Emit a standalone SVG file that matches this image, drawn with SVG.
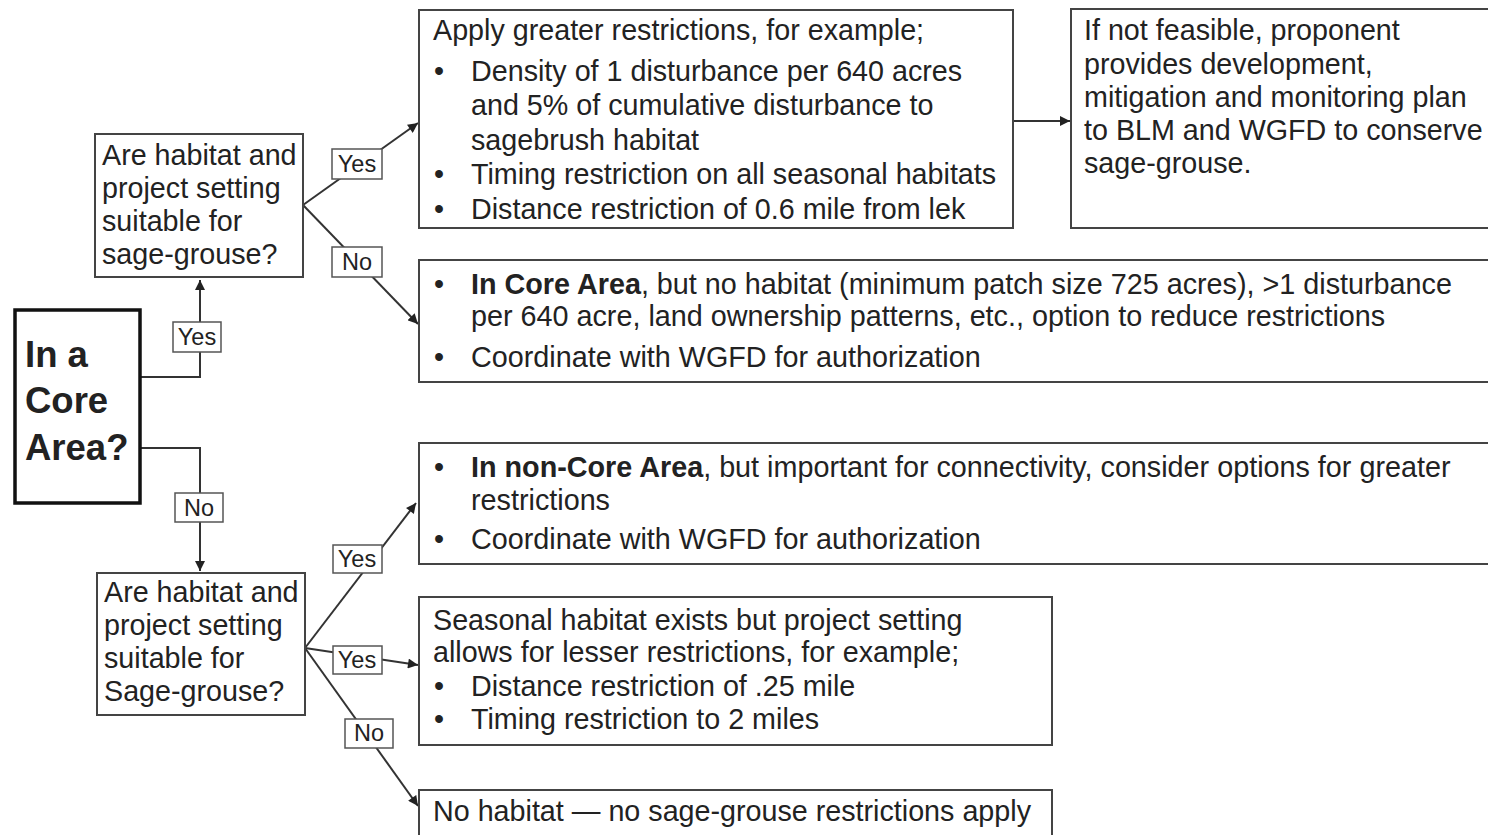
<svg xmlns="http://www.w3.org/2000/svg" width="1488" height="835" viewBox="0 0 1488 835">
<style>
text{font-family:"Liberation Sans",Arial,sans-serif;fill:#222}
.t{font-size:28.7px}
.w{font-size:28.75px}
.lbl{font-size:23.5px;text-anchor:middle}
.box{fill:#fff;stroke:#444;stroke-width:2}
.lb{fill:#fff;stroke:#555;stroke-width:1.5}
.ln{fill:none;stroke:#333;stroke-width:2}
.core{font-size:36.5px;font-weight:bold}
</style>
<defs>
<marker id="ah" viewBox="0 0 10 10" refX="10" refY="5" markerWidth="11" markerHeight="10" markerUnits="userSpaceOnUse" orient="auto"><path d="M0,0 L10,5 L0,10 z" fill="#222"/></marker>
</defs>
<rect width="1488" height="835" fill="#fff"/>
<g id="connectors">
<polyline class="ln" points="140,377 200,377 200,280" marker-end="url(#ah)"/>
<polyline class="ln" points="140,448 200,448 200,571" marker-end="url(#ah)"/>
<line class="ln" x1="303" y1="205" x2="418" y2="123" marker-end="url(#ah)"/>
<line class="ln" x1="303" y1="205" x2="418" y2="324" marker-end="url(#ah)"/>
<line class="ln" x1="1013" y1="121" x2="1070" y2="121" marker-end="url(#ah)"/>
<line class="ln" x1="305" y1="648" x2="416" y2="503" marker-end="url(#ah)"/>
<line class="ln" x1="305" y1="648" x2="418" y2="665" marker-end="url(#ah)"/>
<line class="ln" x1="305" y1="648" x2="418" y2="806" marker-end="url(#ah)"/>
<rect class="lb" x="173" y="322" width="48" height="30"/><text class="lbl" x="197" y="345">Yes</text>
<rect class="lb" x="175" y="493" width="48" height="29"/><text class="lbl" x="199" y="516">No</text>
<rect class="lb" x="332" y="149" width="50" height="30"/><text class="lbl" x="357" y="172">Yes</text>
<rect class="lb" x="332" y="247" width="50" height="30"/><text class="lbl" x="357" y="270">No</text>
<rect class="lb" x="333" y="545" width="49" height="28"/><text class="lbl" x="357" y="567">Yes</text>
<rect class="lb" x="333" y="646" width="49" height="28"/><text class="lbl" x="357" y="668">Yes</text>
<rect class="lb" x="345" y="719" width="48" height="29"/><text class="lbl" x="369" y="741">No</text>
</g>
<g id="core">
<rect x="15" y="310" width="125" height="193" fill="#fff" stroke="#111" stroke-width="3.5"/>
<text class="core" x="25" y="367">In a</text>
<text class="core" x="25" y="413">Core</text>
<text class="core" x="25" y="460">Area?</text>
</g>
<g id="q1">
<rect class="box" x="95" y="134" width="208" height="143"/>
<text class="t" x="102" y="165">Are habitat and</text>
<text class="t" x="102" y="198">project setting</text>
<text class="t" x="102" y="231">suitable for</text>
<text class="t" x="102" y="264">sage-grouse?</text>
</g>
<g id="q2">
<rect class="box" x="97" y="573" width="208" height="142"/>
<text class="t" x="104" y="602">Are habitat and</text>
<text class="t" x="104" y="635">project setting</text>
<text class="t" x="104" y="668">suitable for</text>
<text class="t" x="104" y="701">Sage-grouse?</text>
</g>
<g id="greater">
<rect class="box" x="419" y="10" width="594" height="218"/>
<text class="t" x="433" y="40">Apply greater restrictions, for example;</text>
<text class="t" x="434" y="81">•</text><text class="t" x="471" y="81">Density of 1 disturbance per 640 acres</text>
<text class="t" x="471" y="115">and 5% of cumulative disturbance to</text>
<text class="t" x="471" y="150">sagebrush habitat</text>
<text class="t" x="434" y="184">•</text><text class="t" x="471" y="184">Timing restriction on all seasonal habitats</text>
<text class="t" x="434" y="219">•</text><text class="t" x="471" y="219">Distance restriction of 0.6 mile from lek</text>
</g>
<g id="feasible">
<rect class="box" x="1071" y="9" width="430" height="219"/>
<text class="t" x="1084" y="40">If not feasible, proponent</text>
<text class="t" x="1084" y="74">provides development,</text>
<text class="t" x="1084" y="107">mitigation and monitoring plan</text>
<text class="t" x="1084" y="140">to BLM and WGFD to conserve</text>
<text class="t" x="1084" y="173">sage-grouse.</text>
</g>
<g id="core-nohabitat">
<rect class="box" x="419" y="260" width="1080" height="122"/>
<text class="w" x="434" y="294">•</text><text class="w" x="471" y="294"><tspan font-weight="bold">In Core Area</tspan>, but no habitat (minimum patch size 725 acres), &gt;1 disturbance</text>
<text class="w" x="471" y="326">per 640 acre, land ownership patterns, etc., option to reduce restrictions</text>
<text class="w" x="434" y="367">•</text><text class="w" x="471" y="367">Coordinate with WGFD for authorization</text>
</g>
<g id="noncore">
<rect class="box" x="419" y="443" width="1080" height="121"/>
<text class="w" x="434" y="477">•</text><text class="w" x="471" y="477"><tspan font-weight="bold">In non-Core Area</tspan>, but important for connectivity, consider options for greater</text>
<text class="w" x="471" y="510">restrictions</text>
<text class="w" x="434" y="549">•</text><text class="w" x="471" y="549">Coordinate with WGFD for authorization</text>
</g>
<g id="seasonal">
<rect class="box" x="419" y="597" width="633" height="148"/>
<text class="t" x="433" y="630">Seasonal habitat exists but project setting</text>
<text class="t" x="433" y="662">allows for lesser restrictions, for example;</text>
<text class="t" x="434" y="696">•</text><text class="t" x="471" y="696">Distance restriction of .25 mile</text>
<text class="t" x="434" y="729">•</text><text class="t" x="471" y="729">Timing restriction to 2 miles</text>
</g>
<g id="nohabitat">
<rect class="box" x="419" y="790" width="633" height="60"/>
<text class="t" x="433" y="821">No habitat — no sage-grouse restrictions apply</text>
</g>
</svg>
